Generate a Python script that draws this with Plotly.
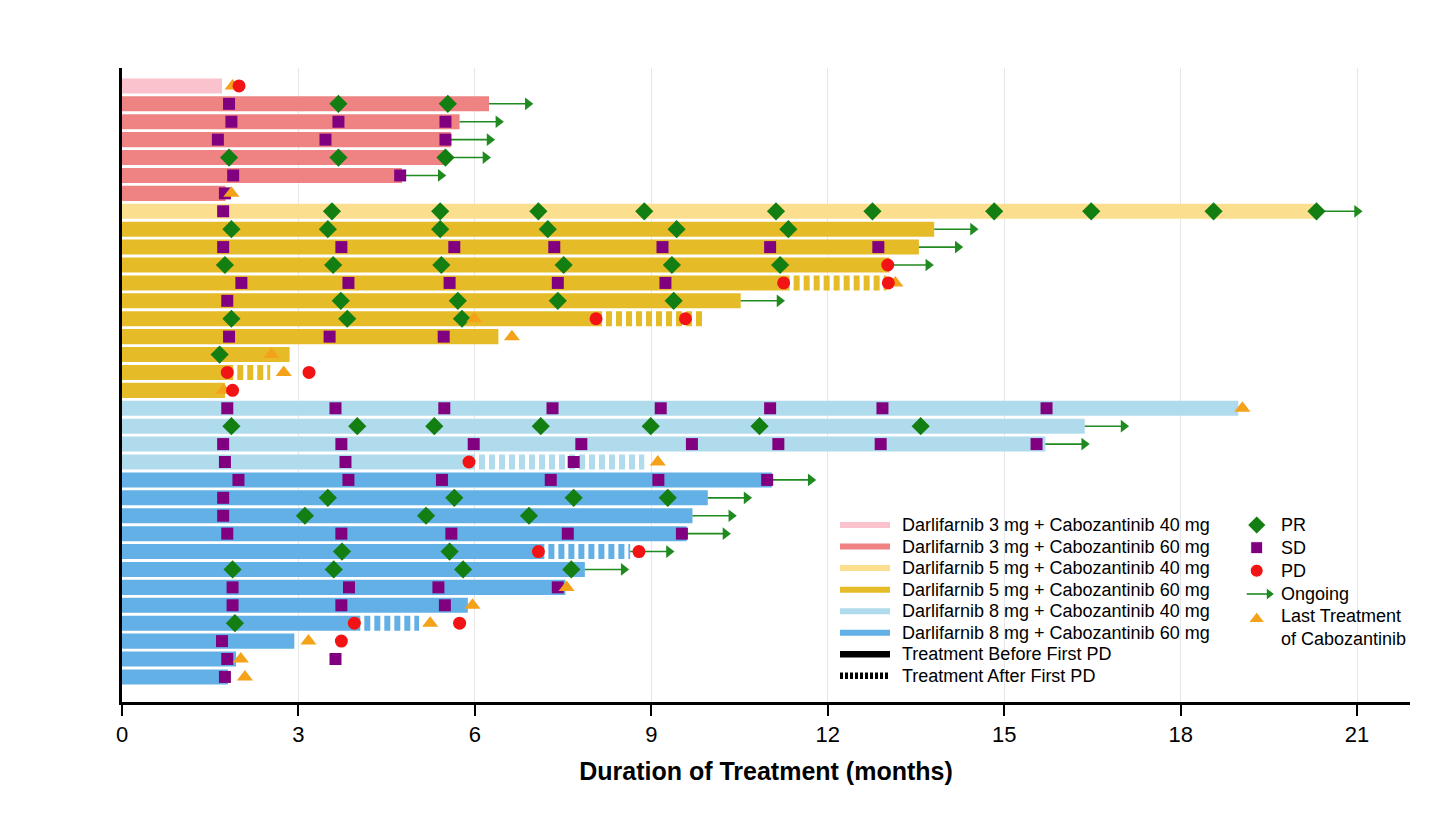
import plotly.graph_objects as go

# ---------------- data ----------------
cohort_names = [
    "Darlifarnib 3 mg + Cabozantinib 40 mg",
    "Darlifarnib 3 mg + Cabozantinib 60 mg",
    "Darlifarnib 5 mg + Cabozantinib 40 mg",
    "Darlifarnib 5 mg + Cabozantinib 60 mg",
    "Darlifarnib 8 mg + Cabozantinib 40 mg",
    "Darlifarnib 8 mg + Cabozantinib 60 mg",
]
cohort_colors = ["#F9C2CC", "#EF8383", "#FCDF8E", "#E5BB27", "#B0DBEC", "#62B0E5"]

# one entry per patient, top to bottom
cohort = [0, 1, 1, 1, 1, 1, 1,
          2,
          3, 3, 3, 3, 3, 3, 3, 3, 3, 3,
          4, 4, 4, 4,
          5, 5, 5, 5, 5, 5, 5, 5, 5, 5, 5, 5]

solid_end = [1.70, 6.24, 5.74, 5.59, 5.52, 4.76, 1.76,
             20.34,
             13.81, 13.55, 13.05, 11.25, 10.52, 8.06, 6.40, 2.85, 1.79, 1.75,
             18.98, 16.37, 15.70, 5.90,
             11.05, 9.96, 9.70, 9.60, 7.08, 7.87, 7.54, 5.88, 3.95, 2.93, 1.94, 1.80]

dash_end = [None, None, None, None, None, None, None,
            None,
            None, None, None, 13.00, None, 9.90, None, None, 2.52, None,
            None, None, None, 8.88,
            None, None, None, None, 8.64, None, None, None, 5.05, None, None, None]

ongoing = [False, True, True, True, True, True, False,
           True,
           True, True, True, False, True, False, False, False, False, False,
           False, True, True, False,
           True, True, True, True, True, True, False, False, False, False, False, False]

pr_times = [[], [3.68, 5.54], [], [], [1.82, 3.68, 5.50], [], [],
            [3.57, 5.41, 7.08, 8.88, 11.12, 12.76, 14.83, 16.48, 18.56, 20.31],
            [1.86, 3.50, 5.41, 7.24, 9.43, 11.33], [], [1.75, 3.59, 5.43, 7.51, 9.35, 11.19],
            [], [3.72, 5.71, 7.41, 9.38], [1.86, 3.83, 5.78], [], [1.66], [], [],
            [], [1.86, 4.00, 5.31, 7.12, 8.99, 10.84, 13.58], [], [],
            [], [3.50, 5.65, 7.68, 9.28], [3.11, 5.17, 6.92], [], [3.74, 5.57],
            [1.88, 3.60, 5.80, 7.64], [], [], [1.92], [], [], []]

sd_times = [[], [1.82], [1.86, 3.68, 5.50], [1.63, 3.46, 5.50], [], [1.89, 4.73], [1.75],
            [1.72],
            [], [1.72, 3.73, 5.65, 7.35, 9.19, 11.02, 12.86], [], [2.03, 3.85, 5.57, 7.41, 9.24],
            [1.79], [], [1.82, 3.53, 5.47], [], [], [],
            [1.79, 3.63, 5.48, 7.32, 9.16, 11.02, 12.93, 15.72], [],
            [1.72, 3.73, 5.98, 7.81, 9.69, 11.16, 12.90, 15.55], [1.75, 3.80, 7.68],
            [1.98, 3.85, 5.44, 7.29, 9.12, 10.97], [1.72], [1.72], [1.79, 3.73, 5.60, 7.58, 9.52],
            [], [], [1.88, 3.86, 5.38, 7.41], [1.88, 3.73, 5.49], [], [1.70], [1.79, 3.63], [1.75]]

pd_times = [[1.99], [], [], [], [], [], [],
            [],
            [], [], [13.02], [11.25, 13.03], [], [8.06, 9.58], [], [], [1.79, 3.18], [1.88],
            [], [], [], [5.90],
            [], [], [], [], [7.08, 8.79], [], [], [], [3.95, 5.74], [3.73], [], []]

last_cabo = [[1.88], [], [], [], [], [], [1.86],
             [],
             [], [], [], [13.15], [], [5.99], [6.63], [2.54], [2.75], [1.73],
             [19.05], [], [], [9.11],
             [], [], [], [], [], [], [7.56], [5.96], [5.24], [3.17], [2.02], [2.09]]

x_ticks = [0, 3, 6, 9, 12, 15, 18, 21]

line_legend_names = cohort_names + ["Treatment Before First PD", "Treatment After First PD"]
marker_legend_names = ["PR", "SD", "PD", "Ongoing", "Last Treatment<br>of Cabozantinib"]

# ---------------- style ----------------
ARROW_LEN = 0.76
BAR_W = 0.84
FONT = "Liberation Sans, Arial, sans-serif"
GREEN_PR = "#137F13"
GREEN_ARROW = "#1F8A1F"
PURPLE = "#800080"
RED = "#F21414"
ORANGE = "#F5A21B"
SIZE_SD, SIZE_PR, SIZE_PD, SIZE_TRI, SIZE_HEAD = 12, 14, 13, 14, 11
rows = list(range(1, len(cohort) + 1))

fig = go.Figure()

# solid bars per cohort
for c, col in enumerate(cohort_colors):
    ys = [r for r, k in zip(rows, cohort) if k == c]
    xs = [e for e, k in zip(solid_end, cohort) if k == c]
    fig.add_trace(go.Bar(x=xs, y=ys, base=0, orientation="h", width=BAR_W,
                         marker=dict(color=col, line=dict(width=0)),
                         showlegend=False, hoverinfo="skip"))

# dashed (after first PD) segments
for r, k, s, d in zip(rows, cohort, solid_end, dash_end):
    if d is not None:
        fig.add_trace(go.Scatter(x=[s, d], y=[r, r], mode="lines",
                                 line=dict(color=cohort_colors[k], width=15, dash="6px,4px"),
                                 showlegend=False, hoverinfo="skip"))

# ongoing arrows
ax, ay, hx, hy = [], [], [], []
for r, s, d, o in zip(rows, solid_end, dash_end, ongoing):
    if o:
        start = d if d is not None else s
        ax += [start, start + ARROW_LEN - 0.05, None]
        ay += [r, r, None]
        hx.append(start + ARROW_LEN - 0.1)
        hy.append(r)
fig.add_trace(go.Scatter(x=ax, y=ay, mode="lines", line=dict(color=GREEN_ARROW, width=1.6),
                         showlegend=False, hoverinfo="skip"))
fig.add_trace(go.Scatter(x=hx, y=hy, mode="markers",
                         marker=dict(symbol="triangle-right", size=SIZE_HEAD, color=GREEN_ARROW,
                                     opacity=1),
                         showlegend=False, hoverinfo="skip"))


def flat(times):
    xs, ys = [], []
    for r, t in zip(rows, times):
        for v in t:
            xs.append(v)
            ys.append(r)
    return xs, ys


for times, sym, size, col in [(sd_times, "square", SIZE_SD, PURPLE),
                              (pr_times, "diamond", SIZE_PR, GREEN_PR),
                              (last_cabo, "triangle-up", SIZE_TRI, ORANGE),
                              (pd_times, "circle", SIZE_PD, RED)]:
    mx, my = flat(times)
    fig.add_trace(go.Scatter(x=mx, y=my, mode="markers", showlegend=False,
                             marker=dict(symbol=sym, size=size, color=col, opacity=1)))

# ---------------- legend (drawn in plot-area fractions) ----------------
PW, PH = 1288.0, 634.0          # plot area size in px


def fx(px):
    return px / PW


def fy(py):
    return 1 - py / PH


shapes, annos = [], []
leg1_y = [457 + 21.55 * i for i in range(len(line_legend_names))]
leg_colors = cohort_colors + ["black", "black"]
for i, (name, col) in enumerate(zip(line_legend_names, leg_colors)):
    yy = fy(leg1_y[i])
    shapes.append(dict(type="line", xref="paper", yref="paper", x0=fx(718), x1=fx(768),
                       y0=yy, y1=yy,
                       line=dict(color=col, width=6 if i < 6 else 6.5,
                                 dash="solid" if i < 7 else "3px,2px")))
    annos.append(dict(xref="paper", yref="paper", x=fx(778), y=yy, text=name, showarrow=False,
                      xanchor="left", yanchor="middle", font=dict(size=18, family=FONT)))

leg2_y = [457, 479.7, 502.7, 526, 559]
sym_x = fx(1134.7)
for name, yy in zip(marker_legend_names, leg2_y):
    annos.append(dict(xref="paper", yref="paper", x=fx(1157), y=fy(yy), text=name,
                      showarrow=False, xanchor="left", yanchor="middle", align="left",
                      font=dict(size=18, family=FONT)))
# ongoing arrow line in legend
shapes.append(dict(type="line", xref="paper", yref="paper", x0=fx(1124.7), x1=fx(1148),
                   y0=fy(leg2_y[3]), y1=fy(leg2_y[3]), line=dict(color=GREEN_ARROW, width=1.6)))
fig.add_trace(go.Scatter(
    x=[sym_x, sym_x, sym_x, fx(1147), sym_x],
    y=[fy(leg2_y[0]), fy(leg2_y[1]), fy(leg2_y[2]), fy(leg2_y[3]), fy(551)],
    xaxis="x2", yaxis="y2", mode="markers", showlegend=False, hoverinfo="skip",
    marker=dict(symbol=["diamond", "square", "circle", "triangle-right", "triangle-up"],
                size=[SIZE_PR, SIZE_SD, SIZE_PD, SIZE_HEAD, SIZE_TRI], opacity=1,
                color=[GREEN_PR, PURPLE, RED, GREEN_ARROW, ORANGE])))

fig.update_layout(
    width=1440, height=821,
    margin=dict(l=114, r=38, t=60, b=127),
    plot_bgcolor="white", paper_bgcolor="white",
    font=dict(family=FONT, color="black"),
    barmode="overlay",
    showlegend=False,
    shapes=shapes,
    annotations=annos,
    xaxis=dict(range=[0, 21.9], tickvals=x_ticks, ticktext=[str(t) for t in x_ticks],
               showgrid=True, gridcolor="#E6E6E6", gridwidth=1,
               showline=True, linecolor="black", linewidth=2.5,
               ticks="outside", ticklen=11, tickwidth=1.5, tickcolor="black",
               tickfont=dict(size=22, family=FONT), zeroline=False,
               title=dict(text="<b>Duration of Treatment (months)</b>",
                          font=dict(size=25, family=FONT), standoff=17)),
    yaxis=dict(range=[35.4, 0], showticklabels=False, showgrid=False, zeroline=False,
               showline=True, linecolor="black", linewidth=2.5, ticks=""),
    xaxis2=dict(overlaying="x", range=[0, 1], visible=False, fixedrange=True),
    yaxis2=dict(overlaying="y", range=[0, 1], visible=False, fixedrange=True),
)

fig.write_html("out.html")
